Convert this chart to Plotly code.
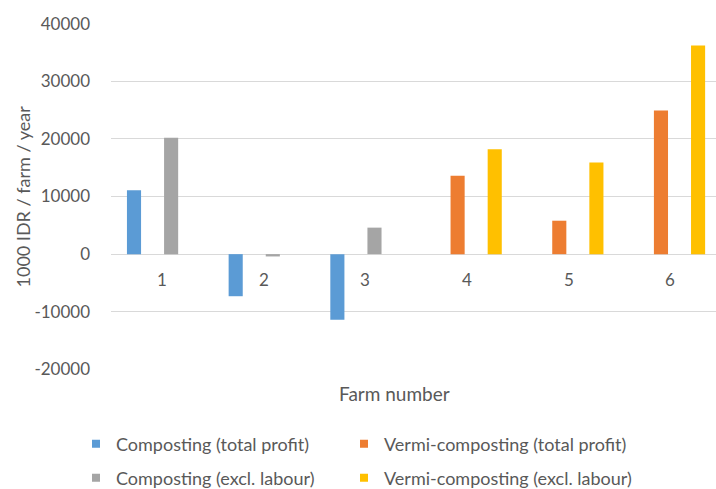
import plotly.graph_objects as go

# Farm categories and profit per farm (1000 IDR / farm / year)
farms = [1, 2, 3, 4, 5, 6]
compost_total = [11100, -7300, -11400, None, None, None]
vermi_total = [None, None, None, 13600, 5800, 24900]
compost_excl = [20200, -400, 4600, None, None, None]
vermi_excl = [None, None, None, 18200, 15900, 36200]

series_names = [
    "Composting (total profit)",
    "Vermi-composting (total profit)",
    "Composting (excl. labour)",
    "Vermi-composting (excl. labour)",
]
series_values = [compost_total, vermi_total, compost_excl, vermi_excl]
colors = ["#5B9BD5", "#ED7D31", "#A5A5A5", "#FFC000"]

y_ticks = [-20000, -10000, 0, 10000, 20000, 30000, 40000]

FONT = "Lato, 'Open Sans', sans-serif"
TEXT = "#595959"
GRID = "#D9D9D9"

W, H = 716, 489
ML, MR, MT, MB = 111, 0, 23, 119
plot_w = W - ML - MR
plot_h = H - MT - MB
plot_bottom = MT + plot_h


def px_x(px):
    return (px - ML) / plot_w


def px_y(py):
    return (plot_bottom - py) / plot_h


fig = go.Figure()

for name, vals, col in zip(series_names, series_values, colors):
    fig.add_trace(go.Bar(
        x=farms, y=vals, name=name, marker=dict(color=col, line=dict(width=0)),
        showlegend=False, legendgroup=name,
    ))

# legend keys: one small square per series, laid out in a 2 x 2 grid
legend_ids = ["legend", "legend2", "legend3", "legend4"]
legend_pos = [(76, 444), (344, 444), (76, 478), (344, 478)]
for name, col, lg in zip(series_names, colors, legend_ids):
    fig.add_trace(go.Scatter(
        x=[None], y=[None], mode="markers", name=name, legendgroup=name,
        marker=dict(symbol="square", size=8, color=col), legend=lg,
    ))

legend_layouts = {}
for lg, (lx, ly) in zip(legend_ids, legend_pos):
    legend_layouts[lg] = dict(
        orientation="h", x=px_x(lx), y=px_y(ly), xanchor="left", yanchor="middle",
        font=dict(family=FONT, size=18, color=TEXT), itemclick=False,
        bgcolor="rgba(0,0,0,0)", borderwidth=0,
    )

# category labels sitting just below the zero line
annotations = [
    dict(x=f, y=0, xref="x", yref="y", text=str(f), showarrow=False,
         yanchor="middle", yshift=-25, font=dict(family=FONT, size=17, color=TEXT))
    for f in farms
]
annotations.append(dict(
    x=px_x(394), y=px_y(393), xref="paper", yref="paper",
    text="Farm number", showarrow=False, xanchor="center", yanchor="middle",
    font=dict(family=FONT, size=19, color=TEXT),
))
annotations.append(dict(
    x=px_x(22), y=0.5, xref="paper", yref="paper",
    text="1000 IDR / farm / year", showarrow=False, textangle=-90,
    xanchor="center", yanchor="middle",
    font=dict(family=FONT, size=18, color=TEXT),
))

fig.update_layout(
    width=W, height=H,
    margin=dict(l=ML, r=MR, t=MT, b=MB, autoexpand=False),
    paper_bgcolor="white", plot_bgcolor="white",
    barmode="group", bargap=0.27, bargroupgap=0.24,
    font=dict(family=FONT, color=TEXT),
    xaxis=dict(range=[0.5, 6.45], showticklabels=False, showgrid=False,
               zeroline=False, showline=False, ticks=""),
    yaxis=dict(range=[-20100, 40100], tickvals=y_ticks,
               ticktext=[str(v) for v in y_ticks],
               showgrid=True, gridcolor=GRID, gridwidth=1,
               zeroline=True, zerolinecolor=GRID, zerolinewidth=1,
               showline=False, ticks="", ticklabelstandoff=20,
               tickfont=dict(family=FONT, size=17, color=TEXT)),
    annotations=annotations,
    **legend_layouts,
)

fig.write_html("out.html")
